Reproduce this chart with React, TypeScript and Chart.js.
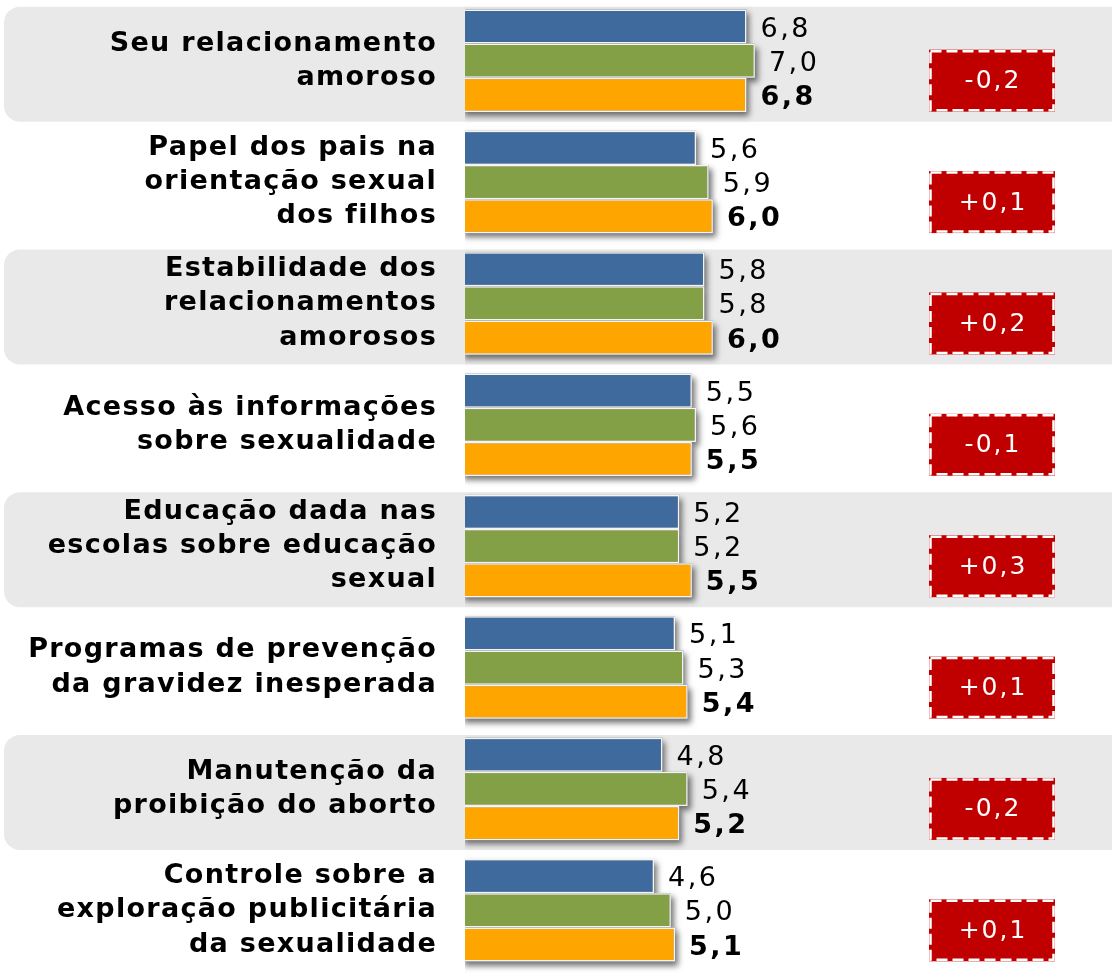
import React, { useEffect, useRef } from "react";
import { Chart, registerables } from "chart.js";

Chart.register(...registerables);

// ---- data ----
const categories: string[][] = [
  ["Seu relacionamento", "amoroso"],
  ["Papel dos pais na", "orientação sexual", "dos filhos"],
  ["Estabilidade dos", "relacionamentos", "amorosos"],
  ["Acesso às informações", "sobre sexualidade"],
  ["Educação dada nas", "escolas sobre educação", "sexual"],
  ["Programas de prevenção", "da gravidez inesperada"],
  ["Manutenção da", "proibição do aborto"],
  ["Controle sobre a", "exploração publicitária", "da sexualidade"],
];
const serieBlue = [6.8, 5.6, 5.8, 5.5, 5.2, 5.1, 4.8, 4.6];
const serieGreen = [7.0, 5.9, 5.8, 5.6, 5.2, 5.3, 5.4, 5.0];
const serieOrange = [6.8, 6.0, 6.0, 5.5, 5.5, 5.4, 5.2, 5.1];
const deltas = ["-0,2", "+0,1", "+0,2", "-0,1", "+0,3", "+0,1", "-0,2", "+0,1"];

// ---- styles ----
const BLUE = "#3E6A9D";
const GREEN = "#83A046";
const ORANGE = "#FFA500";
const RED = "#C00000";
const BAND = "#E9E9E9";
const FONT = "'DejaVu Sans', Verdana, sans-serif";

const fmt = (v: number) => v.toFixed(1).replace(".", ",");

const bandPlugin = {
  id: "bands",
  beforeDraw(chart: any) {
    const ctx = chart.ctx;
    const y = chart.scales.y;
    ctx.save();
    ctx.fillStyle = BAND;
    categories.forEach((_, i) => {
      if (i % 2 !== 0) return;
      const c = y.getPixelForValue(i);
      const top = c - 54;
      const h = 115;
      ctx.beginPath();
      ctx.roundRect(4, top, chart.width + 40, h, 16);
      ctx.fill();
    });
    ctx.restore();
    // letter spacing for axis labels
    (ctx as any).letterSpacing = "1.3px";
  },
  beforeDatasetsDraw(chart: any) {
    const ctx = chart.ctx;
    (ctx as any).letterSpacing = "0px";
    ctx.save();
    const area = chart.chartArea;
    ctx.beginPath();
    ctx.rect(area.left, 0, chart.width, chart.height);
    ctx.clip();
    ctx.shadowColor = "rgba(0,0,0,0.55)";
    ctx.shadowBlur = 6;
    ctx.shadowOffsetX = 3;
    ctx.shadowOffsetY = 4;
    ctx.fillStyle = "#999";
    chart.data.datasets.forEach((_: any, di: number) => {
      const meta = chart.getDatasetMeta(di);
      meta.data.forEach((el: any) => {
        const p = el.getProps(["x", "y", "base", "height"], true);
        ctx.fillRect(p.base, p.y - p.height / 2, p.x - p.base, p.height);
      });
    });
    ctx.restore();
  },
  afterDatasetsDraw(chart: any) {
    const ctx = chart.ctx;
    ctx.save();
    chart.data.datasets.forEach((ds: any, di: number) => {
      const meta = chart.getDatasetMeta(di);
      meta.data.forEach((el: any, i: number) => {
        const p = el.getProps(["x", "y"], true);
        ctx.font = (di === 2 ? "bold " : "") + "27px " + FONT;
        (ctx as any).letterSpacing = "2.5px";
        ctx.fillStyle = "#000";
        ctx.textAlign = "left";
        ctx.textBaseline = "middle";
        ctx.fillText(fmt(ds.data[i]), p.x + 14, p.y + 3);
      });
    });
    // delta boxes
    const y = chart.scales.y;
    deltas.forEach((d, i) => {
      const c = y.getPixelForValue(i) + 20;
      const bx = 929, bw = 126, bh = 62, by = c - bh / 2;
      ctx.fillStyle = RED;
      ctx.fillRect(bx, by, bw, bh);
      ctx.strokeStyle = "#FFFFFF";
      ctx.lineWidth = 2.5;
      ctx.setLineDash([11, 5]);
      ctx.strokeRect(bx + 1.5, by + 1.5, bw - 3, bh - 3);
      ctx.setLineDash([]);
      ctx.fillStyle = "#FFFFFF";
      ctx.font = "25px " + FONT;
      (ctx as any).letterSpacing = "2px";
      ctx.textAlign = "center";
      ctx.textBaseline = "middle";
      ctx.fillText(d, bx + bw / 2 + 1, c + 1);
    });
    ctx.restore();
    (ctx as any).letterSpacing = "0px";
  },
};

export default function App() {
  const ref = useRef<HTMLCanvasElement | null>(null);

  useEffect(() => {
    if (!ref.current) return;
    const barBase = {
      borderColor: "#F4F4F4",
      borderWidth: 1.5,
      borderSkipped: false as const,
    };
    const chart = new Chart(ref.current, {
      type: "bar",
      data: {
        labels: categories,
        datasets: [
          { label: "A", data: serieBlue, backgroundColor: BLUE, ...barBase },
          { label: "B", data: serieGreen, backgroundColor: GREEN, ...barBase },
          { label: "C", data: serieOrange, backgroundColor: ORANGE, ...barBase },
        ],
      },
      options: {
        indexAxis: "y",
        animation: false,
        responsive: false,
        devicePixelRatio: 1,
        categoryPercentage: 0.845,
        barPercentage: 1.0,
        layout: { padding: { top: 0, bottom: 2, left: 0, right: 0 } },
        plugins: {
          legend: { display: false },
          tooltip: { enabled: false },
        },
        scales: {
          x: {
            display: false,
            min: 0.1,
            max: 15.5,
          },
          y: {
            afterFit: (scale: any) => {
              scale.width = 465;
              scale.paddingTop = 0;
              scale.paddingBottom = 0;
            },
            grid: { display: false, drawTicks: false },
            border: { display: false },
            ticks: {
              autoSkip: false,
              padding: 28,
              labelOffset: 0,
              color: "#000",
              font: { family: FONT, size: 27, weight: "bold", lineHeight: 1.27 },
            },
          },
        },
      },
      plugins: [bandPlugin],
    });
    return () => chart.destroy();
  }, []);

  return (
    <div style={{ position: "absolute", left: 0, top: 0, width: 1112, height: 973, background: "#fff" }}>
      <canvas ref={ref} width={1112} height={973} style={{ display: "block" }} />
    </div>
  );
}
